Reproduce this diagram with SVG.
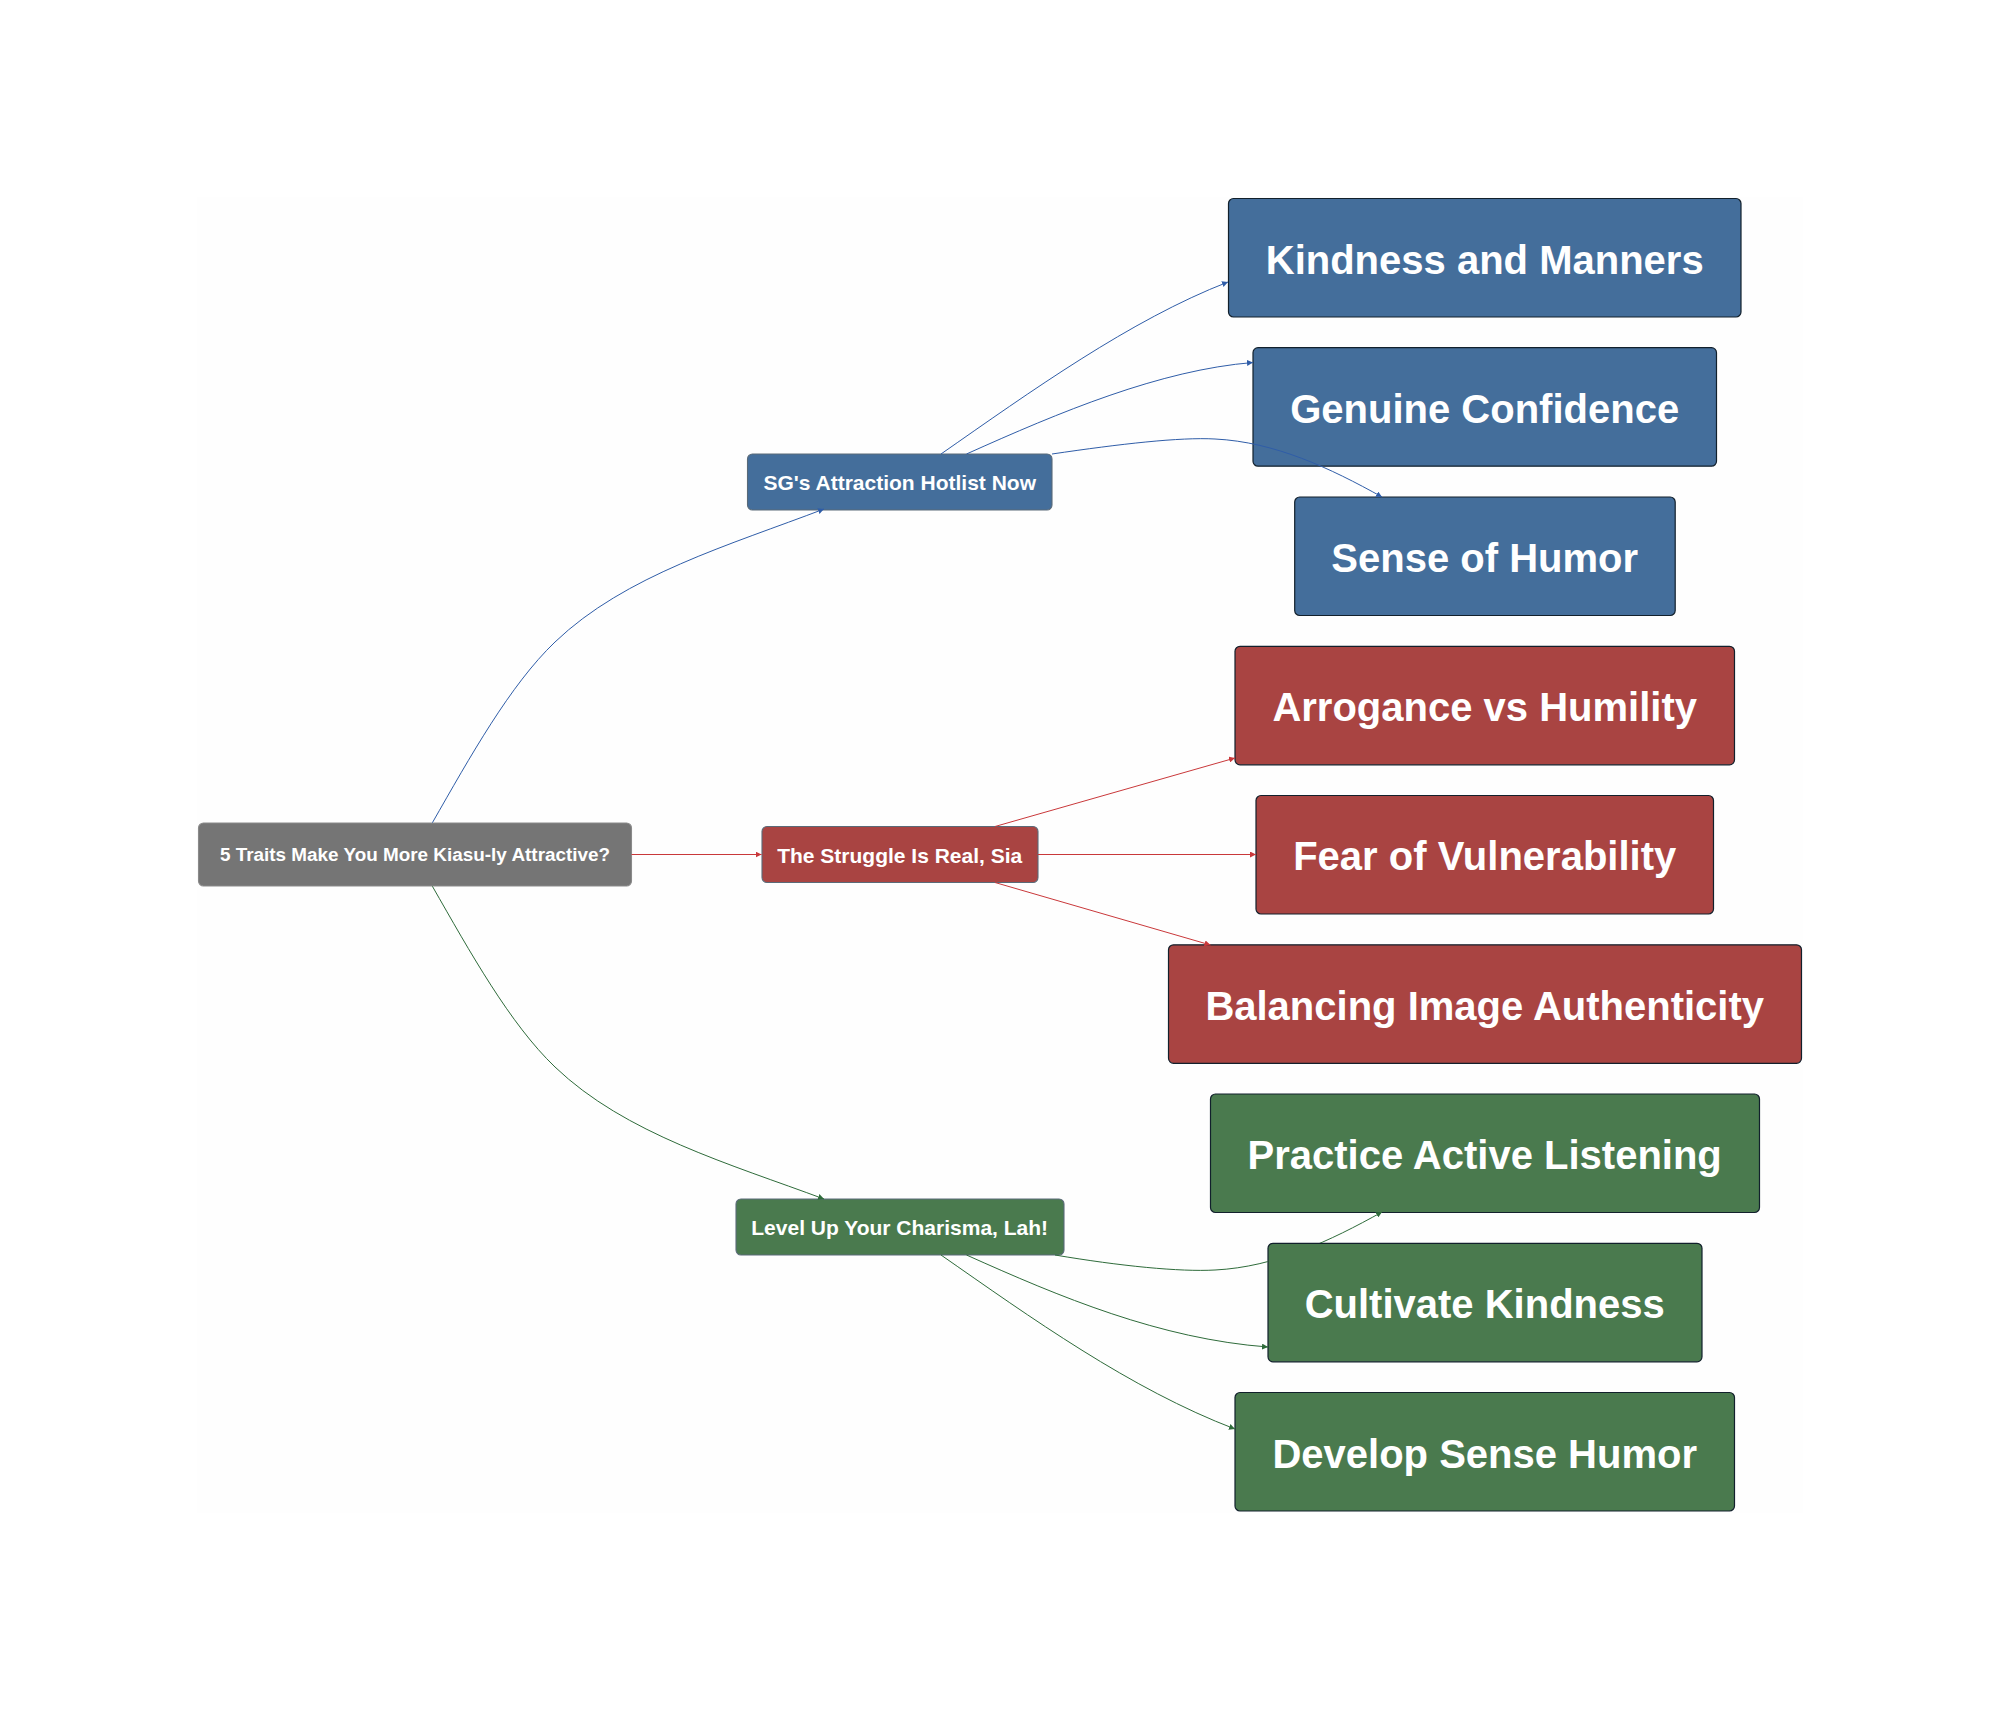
<svg xmlns="http://www.w3.org/2000/svg" width="2000" height="1709" viewBox="0 0 2000 1709">
<style>
.n{stroke-width:1.2}
.l2{stroke-width:1.1}
.blue{fill:#446e9b}.red{fill:#a94442}.green{fill:#4a7a4e}.grey{fill:#757575}
.leaf{stroke:#12202c}.mid{stroke:#5a6a78}
text{font-family:"Liberation Sans",Arial,sans-serif;font-weight:700;fill:#fff;text-anchor:middle;dominant-baseline:central}
.t1{font-size:18.9px}.t2{font-size:21px}.t3{font-size:40px}
.e{fill:none;stroke-width:1}
.eb{stroke:#2f5da8}.er{stroke:#c9383a}.eg{stroke:#2e6b3a}
</style>
<defs>
<marker id="ab" markerWidth="8" markerHeight="6" refX="6" refY="3" orient="auto" markerUnits="userSpaceOnUse"><path d="M0 0L6 3L0 6Z" fill="#2f5da8"/></marker>
<marker id="ar" markerWidth="8" markerHeight="6" refX="6" refY="3" orient="auto" markerUnits="userSpaceOnUse"><path d="M0 0L6 3L0 6Z" fill="#c9383a"/></marker>
<marker id="ag" markerWidth="8" markerHeight="6" refX="6" refY="3" orient="auto" markerUnits="userSpaceOnUse"><path d="M0 0L6 3L0 6Z" fill="#2e6b3a"/></marker>
<clipPath id="behindCultivate"><path clip-rule="evenodd" d="M0 0H2000V1709H0Z M1267.8 1243H1702V1361.6H1267.8Z"/></clipPath>
</defs>
<rect width="2000" height="1709" fill="#fff"/>
<rect x="197" y="197" width="1606" height="1316" fill="#fefefe"/>
<g id="root"><rect class="grey" x="198.5" y="823" width="433" height="63" rx="5" stroke="#8a8a8a" stroke-width="1.1"/><text class="t1" x="415" y="854.5">5 Traits Make You More Kiasu-ly Attractive?</text></g>
<g id="branch-blue"><rect class="blue mid l2" x="747.5" y="454" width="304.5" height="56" rx="5"/><text class="t2" x="899.7" y="482.5">SG's Attraction Hotlist Now</text></g>
<g id="branch-red"><rect class="red mid l2" x="762" y="826.5" width="276" height="56" rx="5"/><text class="t2" x="899.7" y="855">The Struggle Is Real, Sia</text></g>
<g id="branch-green"><rect class="green mid l2" x="736" y="1199" width="328" height="56" rx="5"/><text class="t2" x="899.7" y="1227.5">Level Up Your Charisma, Lah!</text></g>
<g id="leaf-kindness"><rect class="blue leaf n" x="1228.5" y="198.5" width="512.5" height="118.5" rx="5"/><text class="t3" x="1484.7" y="259.5">Kindness and Manners</text></g>
<g id="leaf-confidence"><rect class="blue leaf n" x="1253" y="347.7" width="463.5" height="118.5" rx="5"/><text class="t3" x="1484.7" y="408.5">Genuine Confidence</text></g>
<g id="leaf-humor"><rect class="blue leaf n" x="1294.7" y="497" width="380.5" height="118.5" rx="5"/><text class="t3" x="1484.7" y="557.5">Sense of Humor</text></g>
<g id="leaf-arrogance"><rect class="red leaf n" x="1235" y="646.3" width="499.5" height="118.5" rx="5"/><text class="t3" x="1484.7" y="707">Arrogance vs Humility</text></g>
<g id="leaf-fear"><rect class="red leaf n" x="1256" y="795.5" width="457.5" height="118.5" rx="5"/><text class="t3" x="1484.7" y="856">Fear of Vulnerability</text></g>
<g id="leaf-balancing"><rect class="red leaf n" x="1168.5" y="944.8" width="633" height="118.5" rx="5"/><text class="t3" x="1484.7" y="1005.5">Balancing Image Authenticity</text></g>
<g id="leaf-listening"><rect class="green leaf n" x="1210.5" y="1094" width="549" height="118.5" rx="5"/><text class="t3" x="1484.7" y="1155">Practice Active Listening</text></g>
<g id="leaf-cultivate"><rect class="green leaf n" x="1268" y="1243.3" width="434" height="118.5" rx="5"/><text class="t3" x="1484.7" y="1304">Cultivate Kindness</text></g>
<g id="leaf-develop"><rect class="green leaf n" x="1235" y="1392.5" width="499.5" height="118.5" rx="5"/><text class="t3" x="1484.7" y="1453.5">Develop Sense Humor</text></g>
<g id="connectors">
<path class="e eb" marker-end="url(#ab)" d="M432.4 822.7C470 757 510 685 555 642C625 575 730 545 824 509"/>
<path class="e er" marker-end="url(#ar)" d="M631.5 854.5H761.5"/>
<path class="e eg" marker-end="url(#ag)" d="M432.4 886.3C470 952 510 1024 555 1067C625 1134 730 1164 824 1199"/>
<path class="e eb" marker-end="url(#ab)" d="M941 454C1030 392 1130 320 1228 282"/>
<path class="e eb" marker-end="url(#ab)" d="M966.5 454C1060 412 1160 370 1253 362.5"/>
<path class="e eb" marker-end="url(#ab)" d="M1052 454C1120 444 1180 437 1215 439C1275 442 1330 468 1382 497"/>
<path class="e er" marker-end="url(#ar)" d="M995 826.5L1235 758"/>
<path class="e er" marker-end="url(#ar)" d="M1038 854.5H1256"/>
<path class="e er" marker-end="url(#ar)" d="M995 882.5L1210.5 945"/>
<path class="e eg" marker-end="url(#ag)" clip-path="url(#behindCultivate)" d="M1055 1255C1120 1266 1180 1272 1215 1270C1275 1267 1330 1241 1382 1212"/>
<path class="e eg" marker-end="url(#ag)" d="M966.5 1255C1060 1297 1160 1339 1268 1347"/>
<path class="e eg" marker-end="url(#ag)" d="M941 1255C1030 1317 1130 1389 1235 1429"/>
</g>
</svg>
